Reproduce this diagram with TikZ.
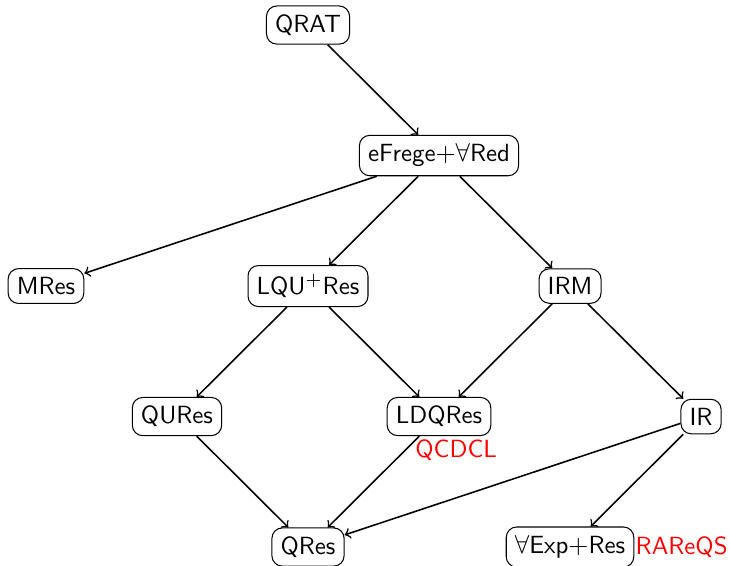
\documentclass[tikz,border=0pt]{standalone}
\usepackage{amsmath, amssymb}
\usepackage{tikz}
\usetikzlibrary{positioning}

\begin{document}
\begin{tikzpicture}[
    x=1.778cm, y=-1.771cm, font=\sffamily\fontsize{9.6pt}{11.5pt}\selectfont,
    sys/.style={draw, rounded corners=4pt},
    alg/.style={text=red},
    every edge/.style={draw, semithick, ->}
]
\useasboundingbox (-0.351,-0.192) rectangle (5.221,4.138);

  % proof systems
  \node[sys] (qrat) at (2,0) {QRAT};
  \node[sys] (efrege) at (3,1) {eFrege$+\forall$Red};
  \node[sys] (mres) at (0,2) {MRes};
  \node[sys] (lqu) at (2,2) {LQU$^+$Res};
  \node[sys] (irm) at (4,2) {IRM};
  \node[sys] (qures) at (1,3) {QURes};
  \node[sys] (ldq) at (3,3) {LDQRes};
  \node[sys] (ir) at (5,3) {IR};
  \node[sys] (qres) at (2,4) {QRes};
  \node[sys] (exp) at (4,4) {$\forall$Exp$+$Res};

  % solvers
  \node[alg, below=-2pt of ldq, xshift=6.6pt] (qcdcl) {QCDCL};
  \node[alg, right=-3pt of exp] (rareqs) {RAReQS};

  % simulations
  \path (qrat) edge (efrege)
        (efrege) edge (mres)
        (efrege) edge (lqu)
        (efrege) edge (irm)
        (lqu) edge (qures)
        (lqu) edge (ldq)
        (irm) edge (ldq)
        (irm) edge (ir)
        (qures) edge (qres)
        (ldq) edge (qres)
        (ir) edge (qres)
        (ir) edge (exp);
\end{tikzpicture}
\end{document}
